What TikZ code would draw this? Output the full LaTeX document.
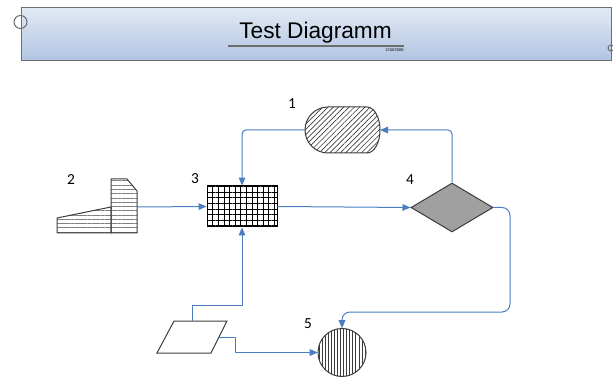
\documentclass[tikz,border=0pt]{standalone}
\usepackage{fontspec}
\setmainfont{Carlito}
\newfontfamily\titlefont{Liberation Sans}
\usetikzlibrary{arrows.meta,patterns.meta,shapes.geometric}

\definecolor{flowblue}{RGB}{74,126,193}
\definecolor{shapegray}{RGB}{60,60,60}
\definecolor{headtop}{RGB}{226,233,244}
\definecolor{headbottom}{RGB}{176,196,226}
\definecolor{headline}{RGB}{110,110,110}

\tikzset{every picture/.style={line width=0.75pt}}
\tikzset{
  flow/.style={draw=flowblue, line width=0.75pt, line join=round, -{Triangle[length=6pt,width=5pt]}},
  shapeline/.style={draw=shapegray, line width=0.75pt},
  numlabel/.style={inner sep=0.75pt, font=\fontsize{11.5}{13}\selectfont},
}

\begin{document}
\begin{tikzpicture}[x=0.75pt,y=0.75pt,yscale=-1,xscale=1]
\useasboundingbox (0,0) rectangle (613,377);

%Header bar
\draw [draw=headline, top color=headtop, bottom color=headbottom] (21,8) rectangle (611,61);
\draw [draw=headline] (20.5,22) circle [radius=6.5];
\draw [draw=headline] (611,48) circle [radius=3];
% Text Node
\node (title) [anchor=base, inner sep=0pt, font=\titlefont\fontsize{17}{20}\selectfont] at (315.5,39) {Test Diagramm};
\coordinate (ul-w) at (228,46);
\coordinate (ul-e) at (404,46);
\draw [draw=headline, line width=0.9pt] (ul-w) -- (ul-e);
% Text Node
\node (date) [anchor=north east, inner sep=0pt, font=\titlefont\fontsize{3}{3}\selectfont] at (404,48.5) {2/18/2008};

%Stored data shape (1)
\draw [shapeline, pattern={Lines[angle=45,distance=2.8pt,line width=0.5pt]}, pattern color=shapegray] (328,107) -- (367,107) arc [start angle=-90, end angle=90, x radius=13, y radius=23] -- (328,153) arc [start angle=90, end angle=270, radius=23] -- cycle;
\coordinate (store-w) at (305,130);
\coordinate (store-e) at (380,130);

%Manual input shape (2)
\draw [shapeline, pattern={Lines[angle=0,distance=3.2pt,line width=0.4pt]}, pattern color=gray] (57,233) -- (57,218) -- (111,207) -- (111,233) -- cycle;
\draw [shapeline, pattern={Lines[angle=0,distance=3.2pt,line width=0.4pt]}, pattern color=gray] (111,233) -- (111,179) -- (127,179) -- (137,191) -- (137,233) -- cycle;
\coordinate (input-e) at (137,207);

%Grid box (3)
\node (grid) [draw=black, pattern={Hatch[distance=4.2pt,line width=0.7pt]}, minimum width=52.5pt, minimum height=30.75pt, inner sep=0pt] at (242,206.5) {};

%Decision (4)
\node (decision) [diamond, draw=shapegray, fill={rgb,255:red,160;green,160;blue,160}, minimum width=61.5pt, minimum height=36.75pt, inner sep=0pt] at (452,207.5) {};

%Circle (5)
\node (circ) [circle, shapeline, pattern={Lines[angle=90,distance=2.3pt,line width=0.4pt]}, pattern color=shapegray, minimum size=36pt, inner sep=0pt] at (342,352.5) {};

%Parallelogram
\draw [shapeline] (157,353) -- (174,321) -- (227,321) -- (211,353) -- cycle;
\coordinate (para-n) at (192,321);
\coordinate (para-e) at (219,337);

%Connectors
\coordinate (bend-a) at (510,312);
\coordinate (bend-b) at (242,305);
\coordinate (bend-c) at (235,352.5);
\draw [flow, rounded corners=3pt] (store-w) -| (grid.north);
\draw [flow, rounded corners=3pt] (decision.north) |- (store-e);
\draw [flow] (input-e) -- (grid.west);
\draw [flow] (grid.east) -- (decision.west);
\draw [flow, rounded corners=6pt] (decision.east) -| (bend-a) -| (circ.north);
\draw [flow] (para-n) |- (bend-b) -- (grid.south);
\draw [flow] (para-e) -| (bend-c) -- (circ.west);

% Text Node
\node (lbl-1) [numlabel] at (292,104) {1};
\node (lbl-2) [numlabel] at (71,180) {2};
\node (lbl-3) [numlabel] at (195,179) {3};
\node (lbl-4) [numlabel] at (410,179.5) {4};
\node (lbl-5) [numlabel] at (308,324) {5};

\end{tikzpicture}
\end{document}
